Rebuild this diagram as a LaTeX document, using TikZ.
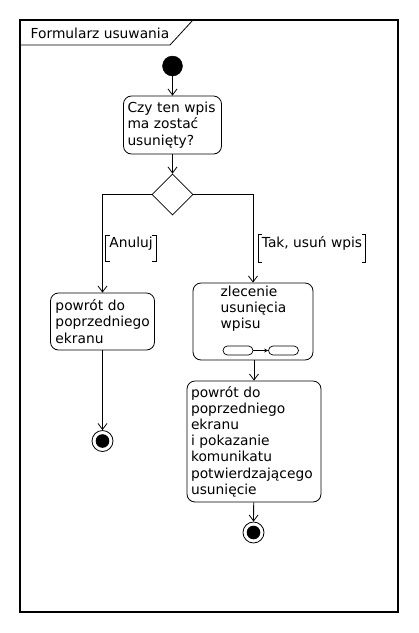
\documentclass[tikz,border=0pt]{standalone}
\usepackage{fontspec}
\setmainfont{DejaVu Sans}
\usetikzlibrary{shapes.geometric,arrows.meta}

\begin{document}
\begin{tikzpicture}[x=1pt,y=-1pt,font=\fontsize{13.8}{16.2}\selectfont]
            \tikzset{actbox/.style = {rectangle, rounded corners=8pt, draw=black, line width=0.8pt, align=left, inner sep=5pt}}
            \tikzset{startpt/.style = {circle, fill=black, draw=black, minimum size=20pt, inner sep=0pt}}
            \tikzset{endpt/.style = {circle, draw=black, line width=0.8pt, minimum size=21pt, inner sep=0pt,
                path picture={\fill[black] (path picture bounding box.center) circle (6.8pt);}}}
            \tikzset{decision/.style = {diamond, draw=black, line width=0.8pt, minimum width=41pt, minimum height=41pt, inner sep=0pt}}
            \tikzset{pill/.style = {rectangle, rounded corners=4.5pt, draw=black, line width=0.7pt, minimum width=30pt, minimum height=9pt, inner sep=0pt}}
            \tikzset{flow/.style = {line width=0.8pt, -{Straight Barb[length=6pt,width=9pt]}}}
            \tikzset{bracket/.style = {line width=0.8pt}}
            \useasboundingbox (0,0) rectangle (419,633);

            % frame
            \draw[line width=1.1pt] (20,20) rectangle (398,612);
            \node[anchor=west, inner sep=0pt] (title) at (30.5,33) {Formularz usuwania};
            \draw[line width=0.8pt] (20,45) -- (170,45) -- (193,20);

            \node[startpt] (start) at (172.5,66) {};
            \node[actbox, minimum width=98pt, minimum height=58pt, text width=90pt, inner xsep=4pt] (ask) at (172.5,125) {Czy ten wpis\\ma zostać\\usunięty?};
            \node[decision] (dec) at (172.5,194.5) {};

            \node[actbox, minimum width=104pt, minimum height=57pt, text width=94pt] (back) at (102.5,321.5) {powrót do\\poprzedniego\\ekranu};
            \node[endpt] (endA) at (102.5,441) {};

            \node[actbox, minimum width=120pt, minimum height=77pt] (order) at (253,321.5) {};
            \node[anchor=north west, inner sep=0pt, align=left] (ordertxt) at (220.5,285.5) {zlecenie\\usunięcia\\wpisu};
            \node[pill] (stepA) at (238,350.5) {};
            \node[pill] (stepB) at (283.5,350.5) {};
            \draw[line width=0.7pt, -{Stealth[length=4pt,width=4pt]}] (stepA) -- (stepB);

            \node[actbox, minimum width=134pt, minimum height=121pt, text width=126pt, inner xsep=4pt] (backinfo) at (254,441.5) {powrót do\\poprzedniego\\ekranu\\i pokazanie\\komunikatu\\potwierdzającego\\usunięcie};
            \node[endpt] (endB) at (253.5,532.5) {};

            \draw[flow] (start) -- (ask);
            \draw[flow] (ask) -- (dec);
            \draw[flow] (dec.west) -| (back.north);
            \draw[flow] (dec.east) -| (order.north);
            \draw[flow] (back) -- (endA);
            \draw[flow] (order.south -| backinfo.north) -- (backinfo.north);
            \draw[flow] (backinfo) -- (endB);

            % guards
            \node[inner xsep=3.5pt, inner ysep=1.5pt] (cancel) at (131,243.5) {Anuluj};
            \draw[bracket] ([xshift=4pt]cancel.north west) -- (cancel.north west) -- ([yshift=-10pt]cancel.south west) -- ++(4,0);
            \draw[bracket] ([xshift=-4pt]cancel.north east) -- (cancel.north east) -- ([yshift=-10pt]cancel.south east) -- ++(-4,0);

            \node[inner xsep=3.5pt, inner ysep=1.5pt] (confirm) at (312,243.5) {Tak, usuń wpis};
            \draw[bracket] ([xshift=4pt]confirm.north west) -- (confirm.north west) -- ([yshift=-10pt]confirm.south west) -- ++(4,0);
            \draw[bracket] ([xshift=-4pt]confirm.north east) -- (confirm.north east) -- ([yshift=-10pt]confirm.south east) -- ++(-4,0);

        \end{tikzpicture}
\end{document}
